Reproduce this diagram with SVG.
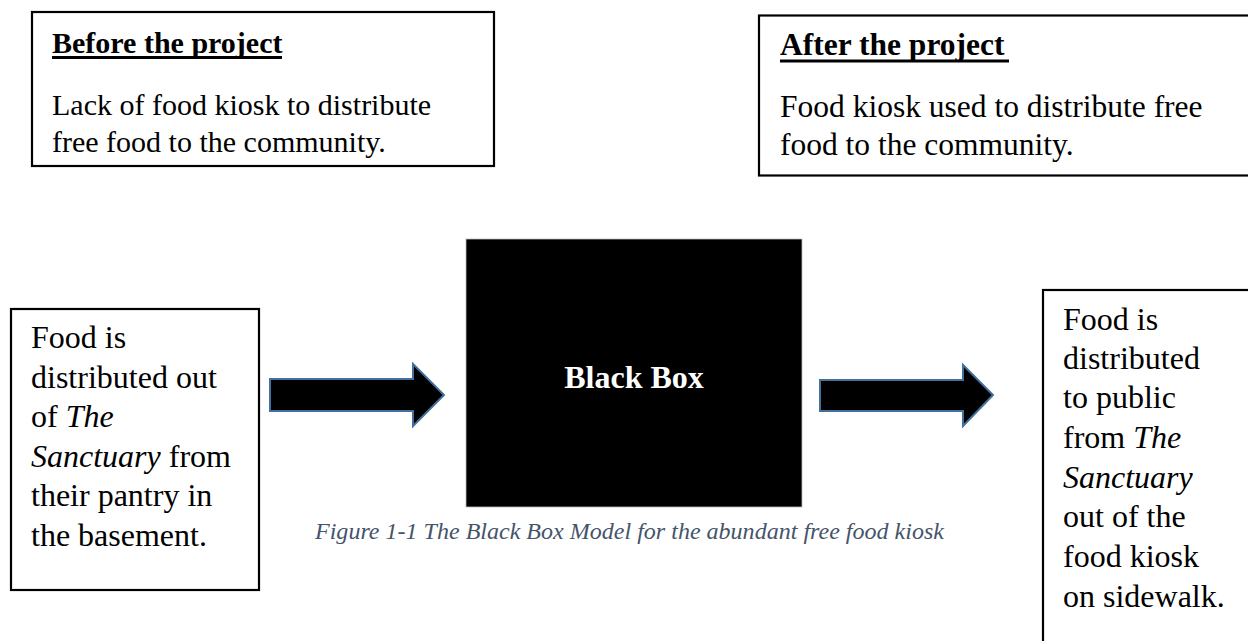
<svg xmlns="http://www.w3.org/2000/svg" width="1248" height="641" viewBox="0 0 1248 641">
<style>
.box{fill:#fff;stroke:#000;stroke-width:2.2}
.t{font-family:"Liberation Serif","Times New Roman",serif;font-size:30px;fill:#000}
.a{font-size:31.5px}
.n{font-size:32px}
.h{font-weight:bold}
.i{font-style:italic}
.ul{stroke:#000;stroke-width:3}
.arr{fill:#000;stroke:#41719C;stroke-width:2;stroke-linejoin:miter}
.cap{font-family:"Liberation Serif","Times New Roman",serif;font-size:23px;font-style:italic;fill:#44546A}
</style>
<rect width="1248" height="641" fill="#fff"/>
<g id="before">
<rect class="box" x="32" y="12" width="462" height="154"/>
<text class="t h" x="52" y="53">Before the project</text>
<line class="ul" x1="52" y1="57.5" x2="282" y2="57.5"/>
<text class="t" x="52" y="115">Lack of food kiosk to distribute</text>
<text class="t" x="52" y="152">free food to the community.</text>
</g>
<g id="after">
<rect class="box" x="759" y="15.5" width="500" height="160"/>
<text class="t a h" x="780" y="55">After the project</text>
<line class="ul" x1="780" y1="61" x2="1009" y2="61"/>
<text class="t a" x="780" y="117">Food kiosk used to distribute free</text>
<text class="t a" x="780" y="155">food to the community.</text>
</g>
<g id="input">
<rect class="box" x="11" y="309" width="248" height="281"/>
<text class="t n" x="31" y="348">Food is</text>
<text class="t n" x="31" y="388">distributed out</text>
<text class="t n" x="31" y="427">of <tspan class="i">The</tspan></text>
<text class="t n" x="31" y="467"><tspan class="i">Sanctuary</tspan> from</text>
<text class="t n" x="31" y="506">their pantry in</text>
<text class="t n" x="31" y="546">the basement.</text>
</g>
<g id="blackbox">
<rect x="466" y="239" width="336" height="268" fill="#000" stroke="#bbb" stroke-width="0.8"/>
<text class="t h" x="634" y="388" text-anchor="middle" style="fill:#fff;font-size:32px">Black Box</text>
</g>
<g id="output">
<rect class="box" x="1043" y="290" width="220" height="370"/>
<text class="t n" x="1063" y="330">Food is</text>
<text class="t n" x="1063" y="369">distributed</text>
<text class="t n" x="1063" y="408">to public</text>
<text class="t n" x="1063" y="448">from <tspan class="i">The</tspan></text>
<text class="t n i" x="1063" y="488">Sanctuary</text>
<text class="t n" x="1063" y="527">out of the</text>
<text class="t n" x="1063" y="567">food kiosk</text>
<text class="t n" x="1063" y="607">on sidewalk.</text>
</g>
<g id="connectors">
<polygon class="arr" points="270,379 413,379 413,364 444,395 413,426 413,411 270,411"/>
<polygon class="arr" points="820,380 963,380 963,365 993,395 963,426 963,411 820,411"/>
</g>
<g id="caption">
<text class="cap" x="315" y="539" textLength="629" lengthAdjust="spacingAndGlyphs">Figure 1-1 The Black Box Model for the abundant free food kiosk</text>
</g>
</svg>
